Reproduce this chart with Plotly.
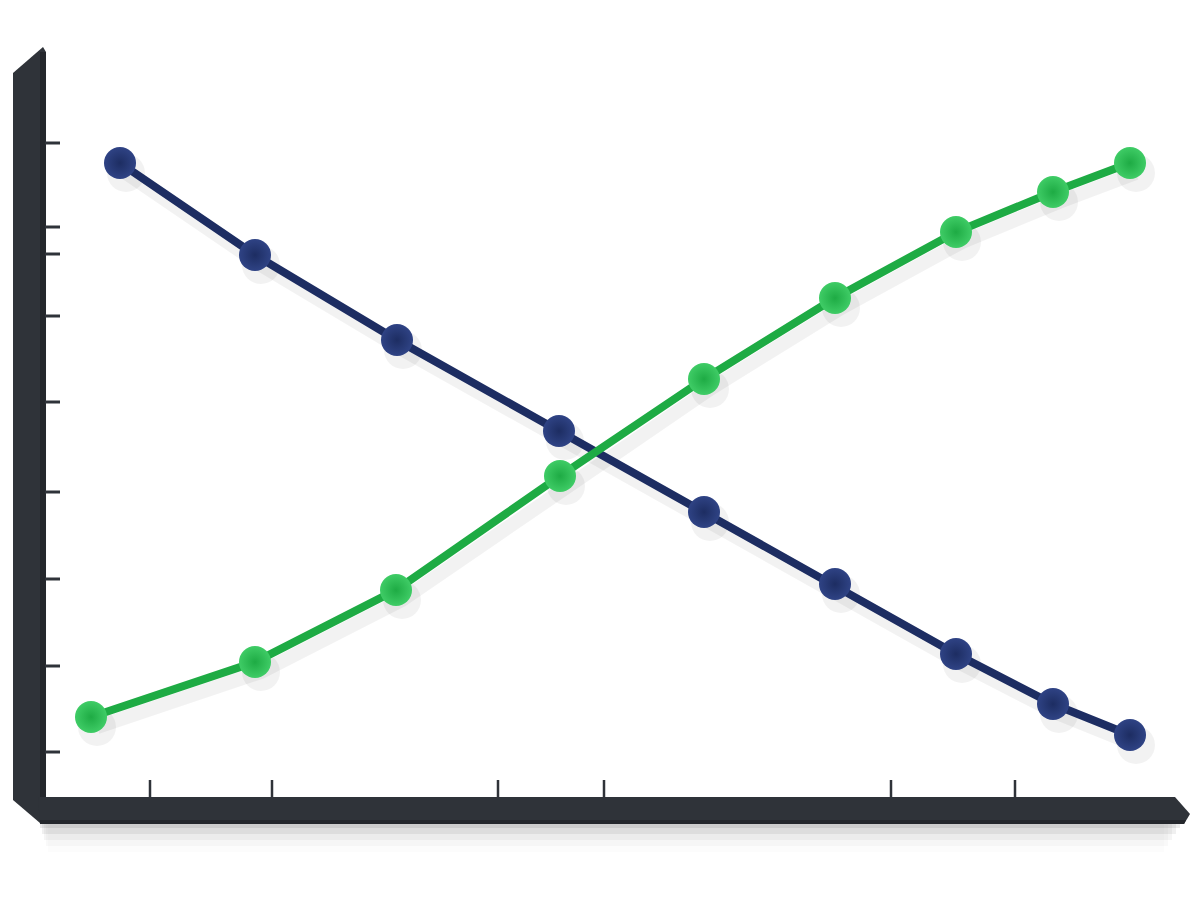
import plotly.graph_objects as go

# values (x: 0 at the left axis, y: 0 at the bottom axis)
blue_x = [0.75, 2.10, 3.52, 5.14, 6.59, 7.90, 9.11, 10.08, 10.85]
blue_y = [6.37, 5.45, 4.60, 3.69, 2.88, 2.16, 1.46, 0.96, 0.65]
green_x = [0.46, 2.10, 3.51, 5.15, 6.59, 7.90, 9.11, 10.08, 10.85]
green_y = [0.83, 1.38, 2.10, 3.24, 4.21, 5.02, 5.68, 6.08, 6.37]
y_ticks = [6.57, 5.73, 5.46, 4.84, 3.98, 3.08, 2.21, 1.34, 0.48]
x_ticks = [1.05, 2.27, 4.53, 5.59, 8.46, 9.70]

W, H = 1200, 900
OFF = 8  # page body margin
XR = [-0.37, 11.63]
YR = [-1.08, 7.92]

BLUE = "#1d2d62"
BLUE_LIGHT = "#2f4385"
GREEN = "#1eab44"
GREEN_LIGHT = "#3fcc66"
BAR = "#2f3339"


def px(x, y):
    # window pixel -> paper coords
    return (x - OFF) / W, 1 - (y - OFF) / H


def path(points):
    s = ""
    for i, (x, y) in enumerate(points):
        a, b = px(x, y)
        s += ("M" if i == 0 else "L") + f"{a:.5f},{b:.5f} "
    return s + "Z"


fig = go.Figure()

# soft shadows: same data drawn on base axes that are shifted a few pixels
for xs, ys in [(blue_x, blue_y), (green_x, green_y)]:
    fig.add_trace(go.Scatter(x=xs, y=ys, mode="lines+markers",
                             line=dict(color="rgba(0,0,0,0.05)", width=14),
                             marker=dict(size=38, color="rgba(0,0,0,0.05)"),
                             hoverinfo="skip", showlegend=False,
                             xaxis="x", yaxis="y"))

fig.add_trace(go.Scatter(x=blue_x, y=blue_y, mode="lines+markers",
                         line=dict(color=BLUE, width=8),
                         marker=dict(size=32, color=BLUE_LIGHT,
                                     gradient=dict(type="radial", color=BLUE),
                                     line=dict(width=0)),
                         showlegend=False, xaxis="x2", yaxis="y2"))
fig.add_trace(go.Scatter(x=green_x, y=green_y, mode="lines+markers",
                         line=dict(color=GREEN, width=8),
                         marker=dict(size=32, color=GREEN_LIGHT,
                                     gradient=dict(type="radial", color=GREEN),
                                     line=dict(width=0)),
                         showlegend=False, xaxis="x2", yaxis="y2"))

shapes = []
# shadow under the bottom bar
for i, a in enumerate([0.08, 0.06, 0.04, 0.025, 0.012]):
    x0, y0 = px(40 + i * 2, 824)
    x1, y1 = px(1180 - i * 4, 828 + i * 6)
    shapes.append(dict(type="rect", xref="paper", yref="paper", x0=x0, y0=y0, x1=x1, y1=y1,
                       fillcolor=f"rgba(0,0,0,{a})", line=dict(width=0), layer="below"))
# left bar
shapes.append(dict(type="path", xref="paper", yref="paper",
                   path=path([(13, 73), (43, 47), (46, 52), (46, 822), (40, 823), (13, 800)]),
                   fillcolor=BAR, line=dict(width=0)))
shapes.append(dict(type="path", xref="paper", yref="paper",
                   path=path([(40, 52), (46, 52), (46, 822), (40, 822)]),
                   fillcolor="#24272c", line=dict(width=0)))
# bottom bar
shapes.append(dict(type="path", xref="paper", yref="paper",
                   path=path([(38, 797), (1175, 797), (1190, 814), (1184, 824), (40, 824)]),
                   fillcolor=BAR, line=dict(width=0)))
shapes.append(dict(type="path", xref="paper", yref="paper",
                   path=path([(40, 820), (1186, 820), (1184, 824), (40, 824)]),
                   fillcolor="#24272c", line=dict(width=0)))

# tick marks (data coords on the main axes)
for t in y_ticks:
    shapes.append(dict(type="line", xref="x2", yref="y2", x0=0.0, x1=0.15, y0=t, y1=t,
                       line=dict(color=BAR, width=3)))
for t in x_ticks:
    shapes.append(dict(type="line", xref="x2", yref="y2", x0=t, x1=t, y0=0.03, y1=0.20,
                       line=dict(color=BAR, width=2.5)))

ax = dict(showgrid=False, zeroline=False, showticklabels=False, ticks="", showline=False)
fig.update_layout(
    width=W, height=H, autosize=False,
    margin=dict(l=0, r=0, t=0, b=0),
    paper_bgcolor="white", plot_bgcolor="white",
    xaxis=dict(range=[XR[0] - 0.06, XR[1] - 0.06], **ax),
    yaxis=dict(range=[YR[0] + 0.10, YR[1] + 0.10], **ax),
    xaxis2=dict(range=XR, overlaying="x", **ax),
    yaxis2=dict(range=YR, overlaying="y", **ax),
    shapes=shapes,
)

fig.write_html("out.html")
